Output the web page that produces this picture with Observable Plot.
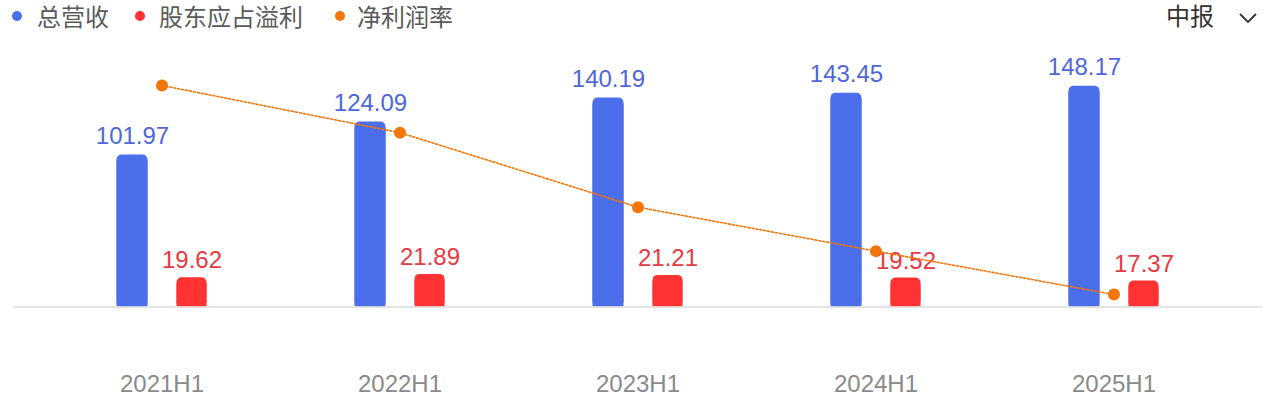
<!DOCTYPE html>
<html>
<head>
<meta charset="utf-8">
<script src="https://cdn.jsdelivr.net/npm/d3@7"></script>
<script src="https://cdn.jsdelivr.net/npm/@observablehq/plot@0.6"></script>
<style>
  html, body { margin: 0; padding: 0; background: #fff; }
  body { width: 1269px; height: 404px; overflow: hidden; font-family: "Liberation Sans", "Noto Sans CJK SC", sans-serif; }
  #head { position: relative; height: 40px; }
  .lg { position: absolute; top: 4px; font-size: 24px; line-height: 28px; color: #5a5a5a; }
  .dot { position: absolute; top: 11px; width: 10px; height: 10px; border-radius: 50%; }
  #period { position: absolute; left: 1166px; top: 3px; font-size: 24px; line-height: 28px; color: #333; }
  #chev { position: absolute; left: 1238px; top: 12px; }
</style>
</head>
<body>
<div id="head"></div>
<div id="chart"></div>
<script>
// ---- data ----
const periods = ["2021H1", "2022H1", "2023H1", "2024H1", "2025H1"];
const revenue = [101.97, 124.09, 140.19, 143.45, 148.17];     // 总营收
const profit = [19.62, 21.89, 21.21, 19.52, 17.37];           // 股东应占溢利
const netMargin = [19.24, 17.54, 14.86, 13.28, 11.72];        // 净利润率 (%)
const seriesNames = ["总营收", "股东应占溢利", "净利润率"];
const seriesColors = ["#4b6eea", "#ff3333", "#f47508"];
const labelColors = ["#4f67d8", "#e63a42"];
const periodLabel = "中报";

// ---- header legend ----
const head = document.getElementById("head");
const legendPos = [[12, 37], [135, 159], [335, 357]];
seriesNames.forEach((name, i) => {
  const d = document.createElement("div");
  d.className = "dot";
  d.style.left = legendPos[i][0] + "px";
  d.style.background = seriesColors[i];
  head.appendChild(d);
  const t = document.createElement("div");
  t.className = "lg";
  t.style.left = legendPos[i][1] + "px";
  t.textContent = name;
  head.appendChild(t);
});
const p = document.createElement("div");
p.id = "period";
p.textContent = periodLabel;
head.appendChild(p);
head.insertAdjacentHTML("beforeend",
  '<svg id="chev" width="20" height="12" viewBox="0 0 20 12"><path d="M2 2 L10 10 L18 2" fill="none" stroke="#333" stroke-width="1.8"/></svg>');

// ---- table ----
const rows = periods.map((p, i) => ({ period: p, revenue: revenue[i], profit: profit[i], margin: netMargin[i] }));
// secondary axis for the margin line, mapped onto the bar scale
const marginToY = d3.scaleLinear().domain([11.27, 19.31]).range([0, 150]);

const chart = Plot.plot({
  width: 1269,
  height: 364,
  marginTop: 43,
  marginBottom: 97.5,
  marginLeft: 13,
  marginRight: 7,
  style: { fontFamily: "Liberation Sans, Noto Sans CJK SC, sans-serif", background: "#fff" },
  x: { domain: periods, paddingInner: 0, paddingOuter: 0.124, round: false, label: null },
  y: { domain: [0, 150], axis: null },
  marks: [
    Plot.axisX({ tickSize: 0, tickPadding: 68, fontSize: 24, color: "#8a8a8a", label: null }),
    // revenue bars (rounded + square base)
    Plot.barY(rows, { x: "period", y: "revenue", fill: seriesColors[0], insetLeft: 74, insetRight: 133, rx: 5 }),
    Plot.barY(rows, { x: "period", y: "revenue", fill: seriesColors[0], insetLeft: 74, insetRight: 133, insetTop: 6 }),
    // profit bars
    Plot.barY(rows, { x: "period", y: "profit", fill: seriesColors[1], insetLeft: 134, insetRight: 74, rx: 5 }),
    Plot.barY(rows, { x: "period", y: "profit", fill: seriesColors[1], insetLeft: 134, insetRight: 74, insetTop: 6 }),
    Plot.ruleY([0], { stroke: "#dcdcdc", strokeWidth: 1.5 }),
    // value labels
    Plot.text(rows, { x: "period", y: "revenue", text: d => d.revenue.toFixed(2), dx: -29.5, dy: -19, fontSize: 24, fill: labelColors[0] }),
    Plot.text(rows, { x: "period", y: "profit", text: d => d.profit.toFixed(2), dx: 30, dy: -17, fontSize: 24, fill: labelColors[1] }),
    // net margin line
    Plot.line(rows, { x: "period", y: d => marginToY(d.margin), stroke: seriesColors[2], strokeWidth: 1.6, strokeDasharray: "2,2" }),
    Plot.dot(rows, { x: "period", y: d => marginToY(d.margin), r: 6, fill: seriesColors[2] })
  ]
});
document.getElementById("chart").appendChild(chart);
</script>
</body>
</html>
